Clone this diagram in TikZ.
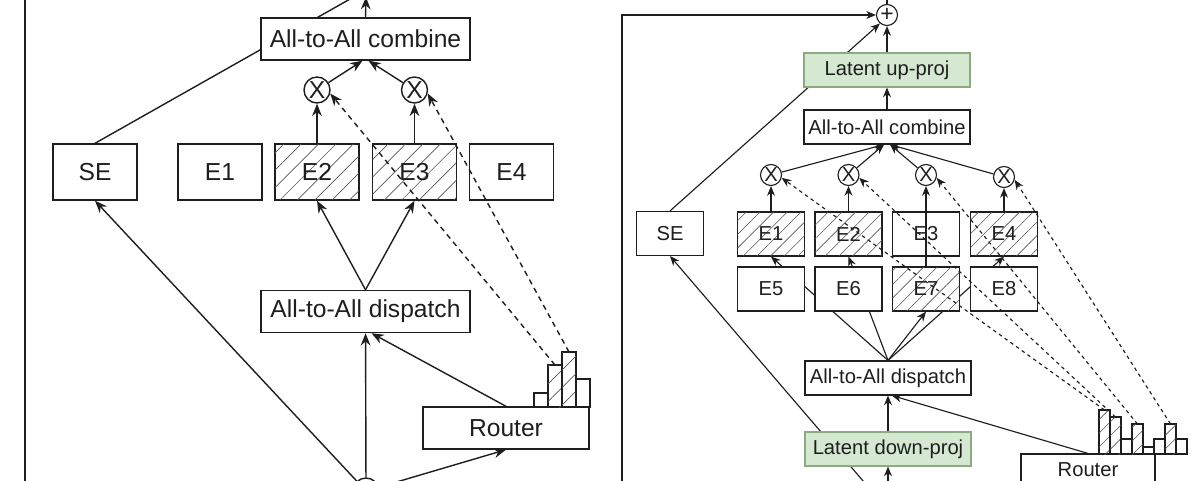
\documentclass[tikz,border=0pt]{standalone}
\usepackage{fontspec}
\setmainfont{Liberation Sans}
\usepackage{tikz}
\usetikzlibrary{positioning,arrows.meta,calc,backgrounds,patterns.meta}
\definecolor{ink}{RGB}{30,30,30}
\definecolor{latfill}{RGB}{213,232,210}
\definecolor{latdraw}{RGB}{140,170,130}

\begin{document}
\begin{tikzpicture}[
  x=0.02cm, y=-0.02cm,
  lbox/.style={draw=ink, fill=white, text=ink, line width=0.8pt, inner sep=0pt, font=\fontsize{14}{16}\selectfont},
  lexp/.style={lbox, minimum width=1.68cm, minimum height=1.12cm},
  lwide/.style={lbox, minimum width=4.18cm, minimum height=0.84cm},
  lmul/.style={lbox, circle, minimum size=0.52cm},
  rbox/.style={draw=ink, fill=white, text=ink, line width=0.65pt, inner sep=0pt, font=\fontsize{11.5}{13}\selectfont},
  rexp/.style={rbox, minimum width=1.34cm, minimum height=0.88cm},
  rwide/.style={rbox, minimum width=3.32cm, minimum height=0.68cm},
  latent/.style={rwide, fill=latfill, draw=latdraw},
  rmul/.style={rbox, circle, minimum size=0.42cm},
  hatchL/.style={postaction={pattern={Lines[angle=45,distance=7pt,line width=0.4pt]}, pattern color=ink!75}},
  hatchR/.style={postaction={pattern={Lines[angle=45,distance=5.5pt,line width=0.35pt]}, pattern color=ink!75}},
  lbar/.style={draw=ink, fill=white, line width=0.7pt, inner sep=0pt, outer sep=0pt, anchor=south, minimum width=0.28cm},
  rbar/.style={draw=ink, fill=white, line width=0.6pt, inner sep=0pt, outer sep=0pt, anchor=south, minimum width=0.22cm},
  larr/.style={draw=ink, line width=0.8pt, -{Stealth[length=7pt,width=5.5pt]}},
  rarr/.style={draw=ink, line width=0.65pt, -{Stealth[length=5.5pt,width=4.5pt]}},
  lgate/.style={larr, dash pattern=on 3pt off 2.5pt},
  rgate/.style={rarr, dash pattern=on 2pt off 2pt}
]
  \useasboundingbox (0,0) rectangle (1200,480);
  \clip (0,0) rectangle (1200,480);

  % left: plain MoE layer
  \node[lwide] (combineL) at (365.5,39) {All-to-All combine};
  \node[lmul] (xL1) at (317,90) {X};
  \node[lmul] (xL2) at (414.5,90) {X};
  \node[lexp] (seL) at (95,172) {SE};
  \node[lexp] (eL1) at (220,172) {E1};
  \node[lexp, hatchL] (eL2) at (317,172) {E2};
  \node[lexp, hatchL] (eL3) at (414.5,172) {E3};
  \node[lexp] (eL4) at (511.5,172) {E4};
  \node[lwide] (dispL) at (365.5,311.5) {All-to-All dispatch};
  \node[lbox, minimum width=3.32cm, minimum height=0.84cm] (routerL) at (506,428) {Router};
  \node[lbar, minimum height=0.28cm] (hL1) at (541,407) {};
  \node[lbar, hatchL, minimum height=0.84cm] (hL2) at (555,407) {};
  \node[lbar, hatchL, minimum height=1.10cm] (hL3) at (569,407) {};
  \node[lbar, minimum height=0.56cm] (hL4) at (583,407) {};
  \node[lmul] (inL) at (366,491) {};
  \coordinate (outL) at (366,-3);
  \coordinate (sumL) at (366,-10);
  \coordinate (resL0) at (25,490);
  \coordinate (resL1) at (25,-10);

  % right: latent MoE layer
  \node[rmul, font=\fontsize{13}{13}\selectfont] (sumR) at (887,15) {+};
  \node[latent] (upR) at (887,70) {Latent up-proj};
  \node[rwide] (combineR) at (887,127) {All-to-All combine};
  \node[rmul] (xR1) at (771,175) {X};
  \node[rmul] (xR2) at (848.5,175) {X};
  \node[rmul] (xR3) at (926,175) {X};
  \node[rmul] (xR4) at (1004,177) {X};
  \node[rexp] (seR) at (670,233.5) {SE};
  \node[rexp, hatchR] (eR1) at (771,234) {E1};
  \node[rexp, hatchR] (eR2) at (848.5,234) {E2};
  \node[rexp] (eR3) at (926,234) {E3};
  \node[rexp, hatchR] (eR4) at (1004,234) {E4};
  \node[rexp] (eR5) at (771,289) {E5};
  \node[rexp] (eR6) at (848.5,289) {E6};
  \node[rexp, hatchR] (eR7) at (926,289) {E7};
  \node[rexp] (eR8) at (1004,289) {E8};
  \node[rwide] (dispR) at (888,378) {All-to-All dispatch};
  \node[latent] (downR) at (888,449) {Latent down-proj};
  \node[rbox, minimum width=2.68cm, minimum height=0.64cm] (routerR) at (1088,470) {Router};
  \node[rbar, hatchR, minimum height=0.88cm] (rb1) at (1104.5,454) {};
  \node[rbar, hatchR, minimum height=0.74cm] (rb2) at (1115.5,454) {};
  \node[rbar, minimum height=0.30cm] (rb3) at (1126.5,454) {};
  \node[rbar, hatchR, minimum height=0.60cm] (rb4) at (1137.5,454) {};
  \node[rbar, minimum height=0.14cm] (rb5) at (1148.5,454) {};
  \node[rbar, minimum height=0.30cm] (rb6) at (1159.5,454) {};
  \node[rbar, hatchR, minimum height=0.60cm] (rb7) at (1170.5,454) {};
  \node[rbar, minimum height=0.30cm] (rb8) at (1181.5,454) {};
  \coordinate (inR) at (888,510);
  \coordinate (resR) at (622,490);
  \coordinate (outR) at (887,-15);

  % links hidden behind boxes
  \begin{scope}[on background layer]
    \draw[ink, line width=0.8pt] (seL.north) -- (sumL);
    \draw[rarr] (seR.north) -- (sumR.230);
    \draw[rarr] (inR) -- (seR.south);
    \draw[rarr] (dispR.north) -- (eR1.south);
    \draw[rarr] (dispR.north) -- (eR2.south);
    \draw[rarr] (dispR.north) -- (eR4.south);
  \end{scope}

  \draw[ink, line width=0.8pt] (resL0) -- (resL1);
  \draw[larr] (combineL.north) -- (outL);
  \draw[larr] (xL1) -- ($(combineL.south)+(-3,0)$);
  \draw[larr] (xL2) -- ($(combineL.south)+(3,0)$);
  \draw[larr] (eL2) -- (xL1);
  \draw[larr] (eL3) -- (xL2);
  \draw[larr] (dispL.north) -- (eL2.south);
  \draw[larr] (dispL.north) -- (eL3.south);
  \draw[larr] (inL) -- (seL.south);
  \draw[larr] (inL) -- (dispL);
  \draw[larr] (inL) -- (routerL.south);
  \draw[larr] (routerL.north) -- ($(dispL.south)+(6,0)$);
  \draw[lgate] (hL2.north) -- (xL1.-15);
  \draw[lgate] (hL3.north) -- (xL2.-15);

  \draw[rarr] (resR) |- (sumR);
  \draw[rarr] (sumR) -- (outR);
  \draw[rarr] (upR) -- (sumR);
  \draw[rarr] (combineR) -- (upR);
  \draw[rarr] (xR1) -- ($(combineR.south)+(-3,0)$);
  \draw[rarr] (xR2) -- ($(combineR.south)+(-3,0)$);
  \draw[rarr] (xR3) -- ($(combineR.south)+(3,0)$);
  \draw[rarr] (xR4) -- ($(combineR.south)+(3,0)$);
  \draw[rarr] (eR1) -- (xR1);
  \draw[rarr] (eR2) -- (xR2);
  \draw[rarr] (eR7.north) -- (xR3.south);
  \draw[rarr] (eR4) -- (xR4);
  \draw[rarr] (dispR.north) -- (eR7.south);
  \draw[rarr] (downR) -- (dispR);
  \draw[rarr] (inR) -- (downR.south);
  \draw[rarr] (routerR.north) -- ($(dispR.south)+(4,0)$);
  \draw[rgate] (rb1.north) -- (xR1.-15);
  \draw[rgate] (rb2.north) -- (xR2.-15);
  \draw[rgate] (rb4.north) -- (xR3.-15);
  \draw[rgate] (rb7.north) -- (xR4.-15);
\end{tikzpicture}
\end{document}
